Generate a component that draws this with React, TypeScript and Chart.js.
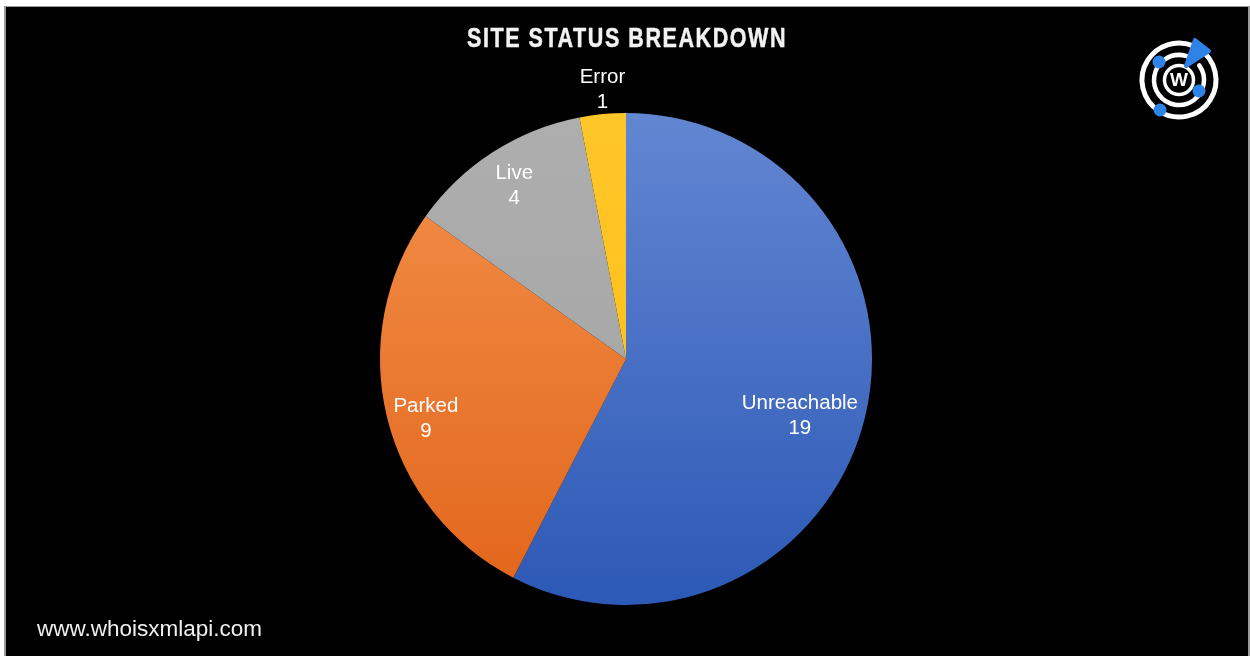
import React, { useEffect, useRef } from "react";
import { Chart, registerables } from "chart.js";

Chart.register(...registerables);

const categories = ["Unreachable", "Parked", "Live", "Error"];
const values = [19, 9, 4, 1];
const chartTitle = "SITE STATUS BREAKDOWN";
const footerText = "www.whoisxmlapi.com";

const gradientTop = ["#6386D2", "#F3914B", "#AEAEAE", "#FFC629"];
const gradientBottom = ["#2C59B6", "#E2651B", "#A2A2A2", "#FFBE12"];
const labelRadius = [0.74, 0.846, 0.847, 1.108];
const labelAngleShift = [3.6, -2.3, 0.3, 0.5];

const W = 1250;
const H = 656;

const decorPlugin = {
  id: "decor",
  beforeDraw(chart: any) {
    const ctx = chart.ctx;
    ctx.save();
    ctx.fillStyle = "#ffffff";
    ctx.fillRect(0, 0, W, H);
    ctx.fillStyle = "#9a9a9a";
    ctx.fillRect(4, 6, 1246, 650);
    ctx.fillStyle = "#000000";
    ctx.fillRect(6, 7, 1242, 649);
    ctx.restore();
  },
  afterDraw(chart: any) {
    const ctx = chart.ctx;
    ctx.save();
    // title (condensed bold)
    ctx.fillStyle = "#f2f2f2";
    ctx.strokeStyle = "#f2f2f2";
    ctx.lineWidth = 0.5;
    ctx.lineJoin = "round";
    ctx.textAlign = "center";
    ctx.textBaseline = "alphabetic";
    ctx.font = "bold 28px 'Liberation Sans', Arial, sans-serif";
    try { (ctx as any).letterSpacing = "2px"; } catch (e) {}
    const tw = ctx.measureText(chartTitle).width;
    const sx = 320 / tw;
    ctx.save();
    ctx.translate(627, 47);
    ctx.scale(sx, 1);
    ctx.fillText(chartTitle, 0, 0);
    ctx.strokeText(chartTitle, 0, 0);
    ctx.restore();
    try { (ctx as any).letterSpacing = "0px"; } catch (e) {}

    // footer
    ctx.textAlign = "left";
    ctx.textBaseline = "middle";
    ctx.font = "22.5px 'Liberation Sans', Arial, sans-serif";
    ctx.fillStyle = "#f0f0f0";
    ctx.fillText(footerText, 37, 630);

    // data labels
    const meta = chart.getDatasetMeta(0);
    ctx.textAlign = "center";
    ctx.font = "20.5px 'Liberation Sans', Arial, sans-serif";
    ctx.fillStyle = "#ffffff";
    meta.data.forEach((arc: any, i: number) => {
      const p = arc.getProps(["x", "y", "startAngle", "endAngle", "outerRadius"], true);
      const mid = (p.startAngle + p.endAngle) / 2 + (labelAngleShift[i] * Math.PI) / 180;
      const r = p.outerRadius * labelRadius[i];
      const cx = p.x + Math.cos(mid) * r;
      const cy = p.y + Math.sin(mid) * r;
      ctx.fillText(categories[i], cx, cy - 10);
      ctx.fillText(String(values[i]), cx, cy + 15);
    });

    // logo
    const lx = 1179, ly = 80;
    ctx.strokeStyle = "#ffffff";
    ctx.lineCap = "round";
    ctx.lineWidth = 5;
    ctx.beginPath();
    ctx.arc(lx, ly, 37, -Math.PI * 0.32, Math.PI * 1.62);
    ctx.stroke();
    ctx.lineWidth = 4.5;
    ctx.beginPath();
    ctx.arc(lx, ly, 25, -Math.PI * 0.2, Math.PI * 1.6);
    ctx.stroke();
    ctx.lineWidth = 3.5;
    ctx.beginPath();
    ctx.arc(lx, ly, 14.5, 0, Math.PI * 2);
    ctx.stroke();
    ctx.fillStyle = "#ffffff";
    ctx.font = "bold 19px 'Liberation Sans', Arial, sans-serif";
    ctx.textAlign = "center";
    ctx.textBaseline = "middle";
    ctx.fillText("W", lx, ly + 1);
    ctx.fillStyle = "#2F82E6";
    ctx.strokeStyle = "#2F82E6";
    ctx.lineJoin = "round";
    ctx.lineWidth = 4;
    ctx.beginPath();
    ctx.moveTo(1186, 66);
    ctx.lineTo(1195, 40);
    ctx.lineTo(1209, 51);
    ctx.closePath();
    ctx.fill();
    ctx.stroke();
    [[1159, 62, 6.5], [1199, 91, 6.5], [1160, 110, 6.5]].forEach(([x, y, r]) => {
      ctx.beginPath();
      ctx.arc(x, y, r, 0, Math.PI * 2);
      ctx.fill();
    });
    ctx.restore();
  },
};

export default function App() {
  const ref = useRef<HTMLCanvasElement | null>(null);
  useEffect(() => {
    document.body.style.margin = "0";
    document.body.style.background = "#ffffff";
    const canvas = ref.current!;
    const bg = (i: number, c: any) => {
      const chart = c.chart;
      const area = chart.chartArea;
      if (!area) return gradientTop[i];
      const g = chart.ctx.createLinearGradient(0, area.top, 0, area.bottom);
      g.addColorStop(0, gradientTop[i]);
      g.addColorStop(1, gradientBottom[i]);
      return g;
    };
    const chart = new Chart(canvas, {
      type: "pie",
      data: {
        labels: categories,
        datasets: [
          {
            data: values,
            backgroundColor: (c: any) => bg(c.dataIndex, c),
            borderWidth: 0,
          },
        ],
      },
      options: {
        responsive: false,
        animation: false,
        layout: { padding: { top: 113, bottom: 51, left: 380, right: 378 } },
        plugins: {
          legend: { display: false },
          tooltip: { enabled: false },
          title: { display: false },
        },
      },
      plugins: [decorPlugin],
    });
    return () => chart.destroy();
  }, []);
  return (
    <div style={{ width: W, height: H }}>
      <canvas ref={ref} width={W} height={H} style={{ display: "block" }} />
    </div>
  );
}
